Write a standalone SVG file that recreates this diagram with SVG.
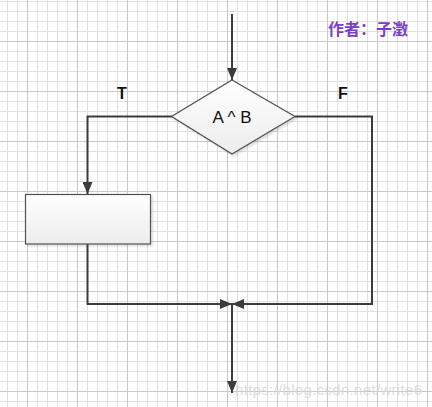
<svg xmlns="http://www.w3.org/2000/svg" width="432" height="407" viewBox="0 0 432 407">
<defs>
<pattern id="minor" x="7" y="1" width="10" height="10" patternUnits="userSpaceOnUse">
<path d="M0.5 0V10M0 0.5H10" stroke="#e0e0e0" stroke-width="1" fill="none"/>
</pattern>
<pattern id="major" x="27" y="41" width="50" height="50" patternUnits="userSpaceOnUse">
<path d="M0.5 0V50M0 0.5H50" stroke="#c9c9c9" stroke-width="1" fill="none"/>
</pattern>
<linearGradient id="g" x1="0" y1="0" x2="0" y2="1">
<stop offset="0" stop-color="#ffffff"/>
<stop offset="1" stop-color="#ececec"/>
</linearGradient>
<marker id="ah" viewBox="0 0 12 10" refX="12" refY="5" markerWidth="12" markerHeight="10" markerUnits="userSpaceOnUse" orient="auto">
<path d="M0 0L12 5L0 10Z" fill="#3c3c3c"/>
</marker>
<filter id="sh" x="-10%" y="-10%" width="130%" height="130%">
<feDropShadow dx="2" dy="2" stdDeviation="1" flood-color="#000" flood-opacity="0.12"/>
</filter>
</defs>
<style>
.ln{stroke:#3c3c3c;stroke-width:2;fill:none}
.shape{fill:url(#g);stroke:#505050;stroke-width:1.2}
.lbl{font-family:"Liberation Sans",Arial,sans-serif;font-size:17px;fill:#111;text-anchor:middle}
.tf{font-family:"Liberation Sans",Arial,sans-serif;font-size:16px;font-weight:bold;fill:#111;text-anchor:middle}
</style>
<rect width="432" height="407" fill="#ffffff"/>
<rect width="432" height="407" fill="url(#minor)"/>
<rect width="432" height="407" fill="url(#major)"/>
<g id="connectors">
<path class="ln" d="M232 14V80" marker-end="url(#ah)"/>
<path class="ln" d="M172 116.5H87.5V194" marker-end="url(#ah)"/>
<path class="ln" d="M295 116.5H372V304H232" marker-end="url(#ah)"/>
<path class="ln" d="M87.5 244V304H232" marker-end="url(#ah)"/>
<path class="ln" d="M232 304V393" marker-end="url(#ah)"/>
</g>
<g id="decision">
<polygon class="shape" filter="url(#sh)" points="232,80 295,116.5 232,154 171.5,116.5"/>
<text class="lbl" x="232" y="123">A ^ B</text>
</g>
<g id="label-T"><text class="tf" x="122" y="99">T</text></g>
<g id="label-F"><text class="tf" x="343" y="99">F</text></g>
<g id="process">
<rect class="shape" filter="url(#sh)" x="25.5" y="194.5" width="125" height="49.5"/>
</g>
<g id="author">
<text x="328" y="35" font-family="'Noto Sans CJK SC',sans-serif" font-size="16" font-weight="bold" fill="#7a3fc6">作者：子澂</text>
</g>
<text x="235" y="395" font-family="'Liberation Sans',Arial,sans-serif" font-size="15" fill="#d4d4d4" fill-opacity="0.8" textLength="187">https://blog.csdn.net/write6</text>
</svg>
